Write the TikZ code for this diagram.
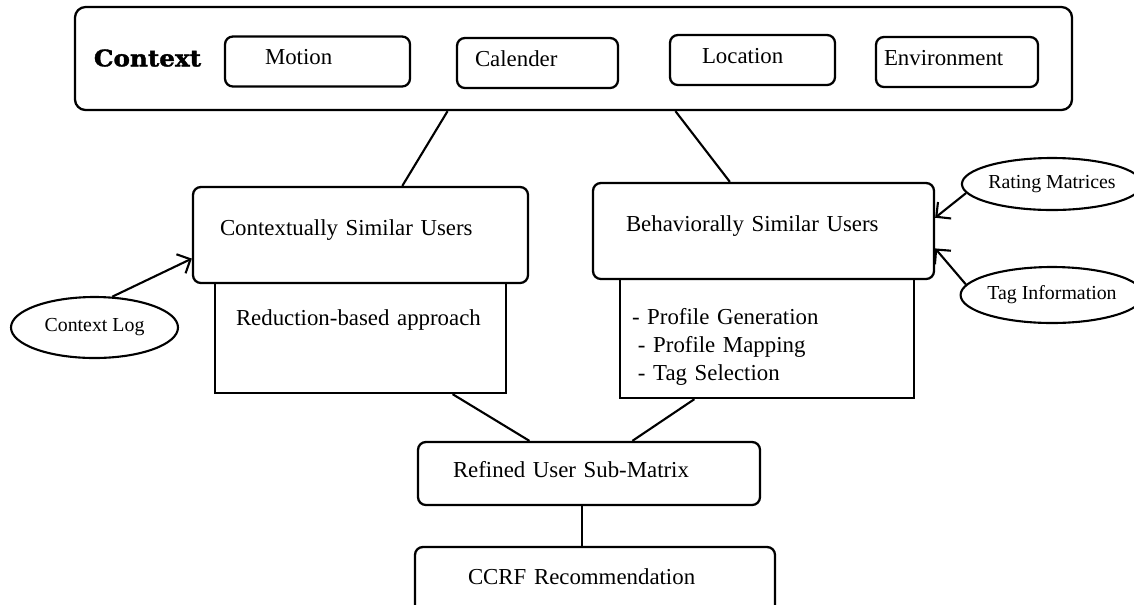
\documentclass[tikz,border=0pt]{standalone}
\usepackage{fontspec}
\setmainfont{Liberation Serif}
\newfontfamily\headfont[FakeStretch=1.08, BoldFeatures={FakeBold=1.6}]{DejaVu Serif}
\usetikzlibrary{shapes.geometric, arrows.meta, positioning, calc}
\usepackage{xcolor}
\definecolor{cInk}{HTML}{000000}
\tikzset{
  groupbox/.style={
    draw=cInk, rounded corners=6pt, line width=1.3pt,
  },
  ctxitem/.style={
    draw=cInk, rounded corners=4.5pt, line width=1.3pt,
    font=\fontsize{13}{16}\selectfont, align=left,
    inner ysep=0pt, text height=0.56cm, text depth=0.44cm,
  },
  userbox/.style={
    draw=cInk, rounded corners=4.5pt, line width=1.3pt,
    font=\fontsize{13}{16}\selectfont, align=left,
    inner ysep=0pt, text height=0.96cm, text depth=0.96cm,
  },
  stepbox/.style={
    draw=cInk, line width=1.3pt,
    font=\fontsize{13}{16}\selectfont, align=left,
    inner ysep=0pt,
  },
  srcnode/.style={
    draw=cInk, ellipse, line width=1.2pt, inner sep=0pt,
    font=\fontsize{11.3}{13}\selectfont,
  },
  arw/.style={-{Straight Barb[length=6pt, width=12pt]}, line width=1.2pt, color=cInk},
  link/.style={line width=1.2pt, color=cInk},
}

\begin{document}
\begin{tikzpicture}
  \useasboundingbox (0,0) rectangle (22.68,-12.08);

  % Context group
  \node[groupbox, minimum width=19.94cm, minimum height=2.06cm] (ctx) at (11.47,-1.17) {};
  \node[font={\headfont\bfseries\fontsize{13}{15}\selectfont}] (ctxlbl) at (2.95,-1.16) {Context};
  \node[ctxitem, inner xsep=0.8cm, text width=2.10cm] (motion) at (6.35,-1.23) {Motion};
  \node[ctxitem, inner xsep=0.36cm, text width=2.50cm] (cal) at (10.75,-1.26) {Calender};
  \node[ctxitem, inner xsep=0.64cm, text width=2.02cm] (loc) at (15.05,-1.20) {Location};
  \node[ctxitem, inner xsep=0.16cm, text width=2.92cm] (env) at (19.14,-1.24) {Environment};

  % Similar users
  \node[userbox, inner xsep=0.54cm, text width=5.62cm] (csu) at (7.21,-4.70) {Contextually Similar Users};
  \node[userbox, inner xsep=0.66cm, text width=5.50cm] (bsu) at (15.27,-4.62) {Behaviorally Similar Users};

  \node[stepbox, inner xsep=0.42cm, text width=4.98cm, text height=0.84cm, text depth=1.36cm]
    (red) at (7.21,-6.76) {Reduction-based approach};
  \node[stepbox, inner xsep=0.24cm, text width=5.40cm, text height=0.90cm, text depth=1.48cm]
    (tasks) at (15.34,-6.77) {- Profile Generation\\
    \hspace*{3.4pt}- Profile Mapping\\
    \hspace*{3.4pt}- Tag Selection};

  % Inputs
  \node[srcnode, minimum width=3.34cm, minimum height=1.22cm] (clog) at (1.89,-6.55) {Context Log};
  \node[srcnode, minimum width=3.40cm, minimum height=1.04cm] (rate) at (21.04,-3.68) {Rating Matrices};
  \node[srcnode, minimum width=3.32cm, minimum height=1.12cm] (tag) at (21.04,-5.90) {Tag Information};

  % Output
  \node[userbox, inner xsep=0.70cm, text width=5.44cm, text height=0.70cm, text depth=0.56cm]
    (refined) at (11.78,-9.47) {Refined User Sub-Matrix};
  \node[userbox, inner xsep=1.06cm, text width=5.08cm, text height=0.74cm, text depth=0.62cm]
    (ccrf) at (11.90,-11.62) {CCRF Recommendation};

  \draw[link] ($(ctx.south west)!0.374!(ctx.south east)$) -- ($(csu.north west)!0.624!(csu.north east)$);
  \draw[link] ($(ctx.south west)!0.602!(ctx.south east)$) -- ($(bsu.north west)!0.402!(bsu.north east)$);
  \draw[link] ($(red.south west)!0.814!(red.south east)$) -- ($(refined.north west)!0.327!(refined.north east)$);
  \draw[link] ($(tasks.south west)!0.255!(tasks.south east)$) -- ($(refined.north west)!0.626!(refined.north east)$);
  \coordinate (refout) at ($(refined.south west)!0.48!(refined.south east)$);
  \draw[link] (refout) -- (refout |- ccrf.north);

  \draw[arw] (clog.60) -- ($(csu.south west)!0.26!(csu.north west)$);
  \draw[arw] (rate.186) -- ($(bsu.south east)!0.635!(bsu.north east)$);
  \draw[arw] (tag.173) -- ($(bsu.south east)!0.323!(bsu.north east)$);

\end{tikzpicture}
\end{document}
